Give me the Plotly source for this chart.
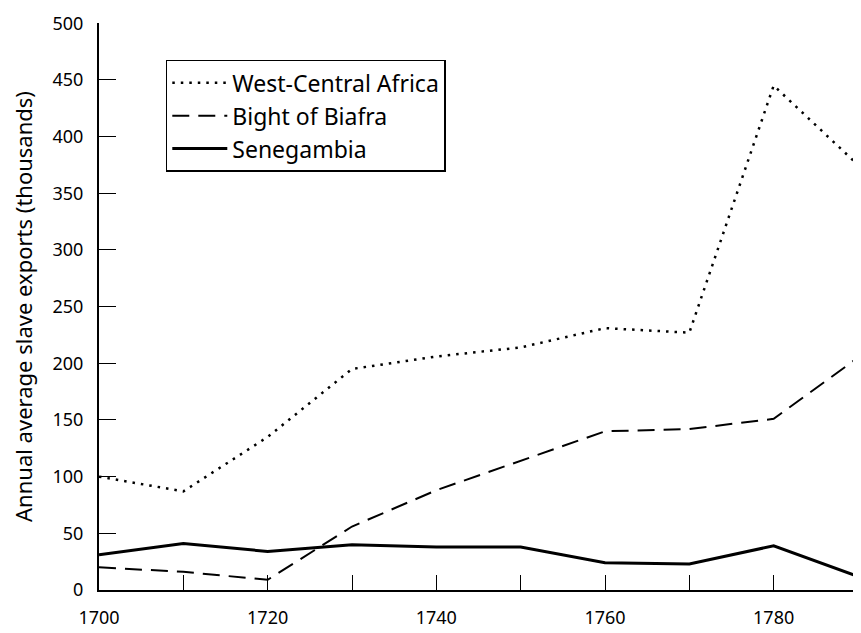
import plotly.graph_objects as go

years = [1700, 1710, 1720, 1730, 1740, 1750, 1760, 1770, 1780, 1790]
west_central_africa = [100, 87, 135, 195, 206, 214, 231, 227, 445, 375]
bight_of_biafra = [20, 16, 9, 56, 88, 114, 140, 142, 151, 205]
senegambia = [31, 41, 34, 40, 38, 38, 24, 23, 39, 12]

x_tickvals = [1700, 1720, 1740, 1760, 1780]
y_tickvals = [0, 50, 100, 150, 200, 250, 300, 350, 400, 450, 500]

FONT = "Noto Sans"

fig = go.Figure()
fig.add_trace(go.Scatter(x=years, y=west_central_africa, mode="lines",
                         name="West-Central Africa",
                         line=dict(color="black", width=2.5, dash="2.5px,6px")))
fig.add_trace(go.Scatter(x=years, y=bight_of_biafra, mode="lines",
                         name="Bight of Biafra",
                         line=dict(color="black", width=2, dash="17px,9px")))
fig.add_trace(go.Scatter(x=years, y=senegambia, mode="lines",
                         name="Senegambia",
                         line=dict(color="black", width=3)))

# the page body adds an 8px margin, so the figure is sized to sit inside it
fig.update_layout(
    width=853, height=625,
    margin=dict(l=91, r=3, t=9, b=43),
    paper_bgcolor="white", plot_bgcolor="white",
    font=dict(family=FONT, color="black", size=18),
    showlegend=True,
    legend=dict(x=0.088, y=0.935, xanchor="left", yanchor="top",
                bgcolor="white", bordercolor="black", borderwidth=1.5,
                font=dict(size=23), itemwidth=55, tracegroupgap=0),
    xaxis=dict(range=[1700, 1790], tickvals=x_tickvals,
               ticks="inside", ticklen=15, tickcolor="black", tickwidth=1.2,
               minor=dict(dtick=10, tick0=1700, ticks="inside", ticklen=15,
                          tickcolor="black", tickwidth=1.2),
               showline=True, linecolor="black", linewidth=2,
               showgrid=False, zeroline=False, ticklabelstandoff=10,
               ticklabeloverflow="allow", tickfont=dict(size=18)),
    yaxis=dict(range=[0, 500.2], tickvals=y_tickvals,
               ticks="inside", ticklen=17, tickcolor="black", tickwidth=1.2,
               showline=True, linecolor="black", linewidth=2,
               showgrid=False, zeroline=False, ticklabelstandoff=10,
               ticklabeloverflow="allow", tickfont=dict(size=18),
               title=dict(text="Annual average slave exports (thousands)",
                          font=dict(size=22), standoff=18)),
)

fig.write_html("out.html")
